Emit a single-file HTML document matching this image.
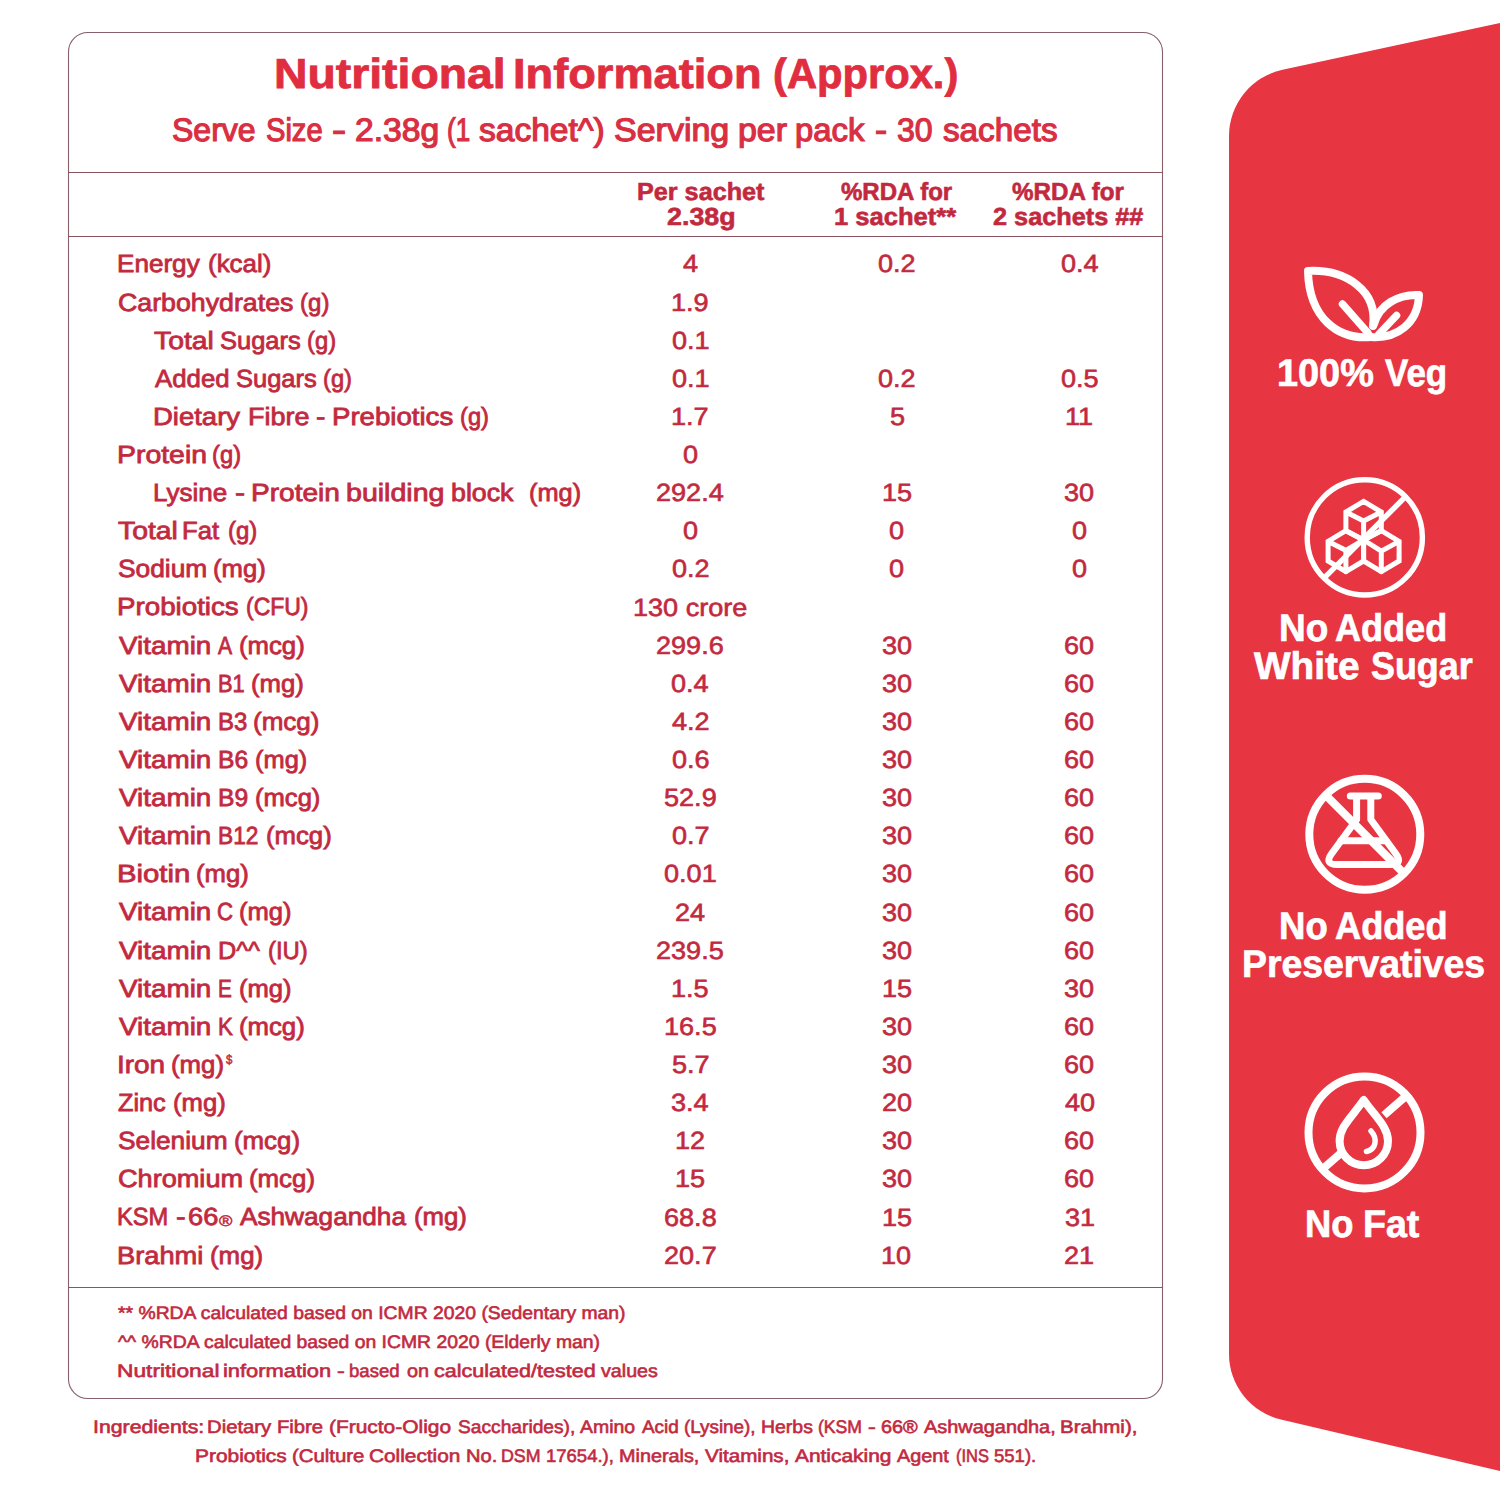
<!DOCTYPE html>
<html lang="en"><head><meta charset="utf-8"><title>Nutritional Information</title>
<style>
html,body{margin:0;padding:0;background:#fff;}
body{width:1500px;height:1500px;position:relative;overflow:hidden;font-family:"Liberation Sans",sans-serif;}
.t{position:absolute;white-space:pre;text-rendering:geometricPrecision;line-height:1;color:#c3293e;transform-origin:0 0;-webkit-text-stroke-color:currentColor;}
svg{position:absolute;left:0;top:0;}
</style></head><body>
<svg width="1500" height="1500" viewBox="0 0 1500 1500">
<rect x="68.5" y="32.5" width="1094" height="1366" rx="19.5" ry="19.5" fill="none" stroke="#86606a" stroke-width="1.1"/>
<g stroke="#8a5560" stroke-width="1.1">
<line x1="68.5" y1="172.5" x2="1162.5" y2="172.5"/>
<line x1="68.5" y1="236.5" x2="1162.5" y2="236.5"/>
<line x1="68.5" y1="1287.5" x2="1162.5" y2="1287.5"/>
</g>
<path d="M1500 23 L1282.5 69.8 A67.8 67.8 0 0 0 1229 136 L1229 1354 A67.3 67.3 0 0 0 1280.9 1419.5 L1500 1471 Z" fill="#e73541"/>
<g fill="none" stroke="#fff" stroke-linecap="round" stroke-linejoin="round">
<!-- leaf -->
<g stroke-width="8">
<path d="M1371 337 C1338 340 1309 318 1308 271 C1346 269 1378 291 1373 326"/>
<path d="M1371 337 C1396 339 1418 324 1419 295 C1398 294 1379 305 1374 324"/>
<path d="M1342.5 304 L1368 333" stroke-width="7.5"/>
<path d="M1396.5 315.5 L1379 334" stroke-width="7.5"/>
</g>
<!-- sugar -->
<g stroke-width="5.4">
<circle cx="1364.8" cy="537.4" r="57.6"/>
<path d="M1404.8 497.4 L1325.3 576.9" stroke-linecap="butt"/>
</g>
<g stroke-width="5" stroke-linejoin="miter">
<path d="M1363.6 501.3 L1381.3 512 L1381.3 530.7 L1363.6 540 L1345.9 530.7 L1345.9 512 Z M1345.9 512 L1363.6 520.9 L1381.3 512 M1363.6 520.9 L1363.6 540"/>
<path d="M1345.9 530.7 L1363.6 540 L1363.6 561 L1345.9 571.7 L1328.1 561 L1328.1 541.4 Z M1328.1 541.4 L1345.9 550.3 L1363.6 540 M1345.9 550.3 L1345.9 571.7"/>
<path d="M1381.3 530.7 L1399.1 541.4 L1399.1 561 L1381.3 571.7 L1363.6 561 L1363.6 540 Z M1363.6 540 L1381.3 551.2 L1399.1 541.4 M1381.3 551.2 L1381.3 571.7"/>
</g>
<!-- flask -->
<g stroke-width="8">
<circle cx="1364.8" cy="834.3" r="55.5"/>
<path d="M1325.2 794.7 L1404.4 873.9" stroke-linecap="butt"/>
</g>
<g stroke-width="7">
<path d="M1350.3 796 L1378.3 796"/>
<path d="M1356.6 799 L1356.6 819.5 L1331.9 853.3 Q1323.6 864.6 1337.6 864.6 L1389.8 864.6 Q1403.8 864.6 1395.5 853.3 L1370.8 819.5 L1370.8 799"/>
<path d="M1341 840.8 L1386 840.8"/>
</g>
<!-- drop -->
<g stroke-width="8">
<circle cx="1364.5" cy="1132.4" r="56"/>
<path d="M1406.6 1095.5 L1384 1115.3 M1341 1153 L1322.4 1169.3" stroke-linecap="butt"/>
<path d="M1363.7 1100 C1351 1118 1339.6 1127 1339.6 1141 A24.2 24.2 0 0 0 1388 1141 C1388 1127 1376.4 1118 1363.7 1100 Z"/>
<path d="M1371 1131 C1378 1139 1376 1149 1366.5 1151.5" stroke-width="5.5"/>
</g>
</g>
</svg>

<div class="t" style="left:273.54px;top:53px;font-size:42.01px;transform:scaleX(1.1034);font-weight:bold;color:#e02d3f;-webkit-text-stroke:0.8px;">Nutritional</div>
<div class="t" style="left:513.01px;top:53px;font-size:42.01px;transform:scaleX(1.0758);font-weight:bold;color:#e02d3f;-webkit-text-stroke:0.8px;">Information</div>
<div class="t" style="left:773.04px;top:53px;font-size:42.01px;transform:scaleX(0.9929);font-weight:bold;color:#e02d3f;-webkit-text-stroke:0.8px;">(Approx.)</div>
<div class="t" style="left:172.39px;top:114px;font-size:32.56px;transform:scaleX(0.9843);color:#d92f42;-webkit-text-stroke:1.2px;">Serve</div>
<div class="t" style="left:266.23px;top:114px;font-size:32.56px;transform:scaleX(0.8939);color:#d92f42;-webkit-text-stroke:1.2px;">Size</div>
<div class="t" style="left:332.26px;top:114px;font-size:32.56px;transform:scaleX(1.2997);color:#d92f42;-webkit-text-stroke:1.2px;">-</div>
<div class="t" style="left:354.84px;top:114px;font-size:32.56px;transform:scaleX(1.0337);color:#d92f42;-webkit-text-stroke:1.2px;">2.38g</div>
<div class="t" style="left:447.26px;top:114px;font-size:32.56px;transform:scaleX(0.7984);color:#d92f42;-webkit-text-stroke:1.2px;">(1</div>
<div class="t" style="left:479.49px;top:114px;font-size:32.56px;transform:scaleX(1.0309);color:#d92f42;-webkit-text-stroke:1.2px;">sachet^)</div>
<div class="t" style="left:613.96px;top:114px;font-size:32.56px;transform:scaleX(1.0446);color:#d92f42;-webkit-text-stroke:1.2px;">Serving</div>
<div class="t" style="left:737.50px;top:114px;font-size:32.56px;transform:scaleX(1.0420);color:#d92f42;-webkit-text-stroke:1.2px;">per</div>
<div class="t" style="left:794.55px;top:114px;font-size:32.56px;transform:scaleX(1.0080);color:#d92f42;-webkit-text-stroke:1.2px;">pack</div>
<div class="t" style="left:874.53px;top:114px;font-size:32.56px;transform:scaleX(1.1169);color:#d92f42;-webkit-text-stroke:1.2px;">-</div>
<div class="t" style="left:896.59px;top:114px;font-size:32.56px;transform:scaleX(0.9835);color:#d92f42;-webkit-text-stroke:1.2px;">30</div>
<div class="t" style="left:943.09px;top:114px;font-size:32.56px;transform:scaleX(1.0216);color:#d92f42;-webkit-text-stroke:1.2px;">sachets</div>
<div class="t" style="left:636.73px;top:181px;font-size:24.71px;transform:scaleX(1.0199);font-weight:bold;-webkit-text-stroke:0.6px;">Per sachet</div>
<div class="t" style="left:667.09px;top:206px;font-size:24.71px;transform:scaleX(1.0873);font-weight:bold;-webkit-text-stroke:0.6px;">2.38g</div>
<div class="t" style="left:840.92px;top:181px;font-size:24.71px;transform:scaleX(0.9724);font-weight:bold;-webkit-text-stroke:0.6px;">%RDA for</div>
<div class="t" style="left:833.91px;top:206px;font-size:24.71px;transform:scaleX(1.0348);font-weight:bold;-webkit-text-stroke:0.6px;">1 sachet**</div>
<div class="t" style="left:1012.42px;top:181px;font-size:24.71px;transform:scaleX(0.9785);font-weight:bold;-webkit-text-stroke:0.6px;">%RDA for</div>
<div class="t" style="left:992.62px;top:206px;font-size:24.71px;transform:scaleX(1.0233);font-weight:bold;-webkit-text-stroke:0.6px;">2 sachets ##</div>
<div class="t" style="left:116.88px;top:253px;font-size:24.85px;transform:scaleX(1.0503);-webkit-text-stroke:0.8px;">Energy</div>
<div class="t" style="left:207.50px;top:253px;font-size:24.85px;transform:scaleX(1.0442);-webkit-text-stroke:0.8px;">(kcal)</div>
<div class="t" style="left:682.89px;top:253px;font-size:24.85px;transform:scaleX(1.0900);-webkit-text-stroke:0.6px;">4</div>
<div class="t" style="left:878.30px;top:253px;font-size:24.85px;transform:scaleX(1.0900);-webkit-text-stroke:0.6px;">0.2</div>
<div class="t" style="left:1060.69px;top:253px;font-size:24.85px;transform:scaleX(1.0900);-webkit-text-stroke:0.6px;">0.4</div>
<div class="t" style="left:117.68px;top:292px;font-size:24.85px;transform:scaleX(1.0763);-webkit-text-stroke:0.8px;">Carbohydrates</div>
<div class="t" style="left:299.76px;top:292px;font-size:24.85px;transform:scaleX(0.9680);-webkit-text-stroke:0.8px;">(g)</div>
<div class="t" style="left:671.18px;top:292px;font-size:24.85px;transform:scaleX(1.0900);-webkit-text-stroke:0.6px;">1.9</div>
<div class="t" style="left:154.31px;top:330px;font-size:24.85px;transform:scaleX(1.1392);-webkit-text-stroke:0.8px;">Total</div>
<div class="t" style="left:219.61px;top:330px;font-size:24.85px;transform:scaleX(1.0259);-webkit-text-stroke:0.8px;">Sugars</div>
<div class="t" style="left:306.77px;top:330px;font-size:24.85px;transform:scaleX(0.9575);-webkit-text-stroke:0.8px;">(g)</div>
<div class="t" style="left:671.60px;top:330px;font-size:24.85px;transform:scaleX(1.0900);-webkit-text-stroke:0.6px;">0.1</div>
<div class="t" style="left:154.72px;top:368px;font-size:24.85px;transform:scaleX(1.0384);-webkit-text-stroke:0.8px;">Added</div>
<div class="t" style="left:235.61px;top:368px;font-size:24.85px;transform:scaleX(1.0259);-webkit-text-stroke:0.8px;">Sugars</div>
<div class="t" style="left:322.57px;top:368px;font-size:24.85px;transform:scaleX(0.9540);-webkit-text-stroke:0.8px;">(g)</div>
<div class="t" style="left:671.60px;top:368px;font-size:24.85px;transform:scaleX(1.0900);-webkit-text-stroke:0.6px;">0.1</div>
<div class="t" style="left:878.30px;top:368px;font-size:24.85px;transform:scaleX(1.0900);-webkit-text-stroke:0.6px;">0.2</div>
<div class="t" style="left:1060.90px;top:368px;font-size:24.85px;transform:scaleX(1.0900);-webkit-text-stroke:0.6px;">0.5</div>
<div class="t" style="left:152.90px;top:406px;font-size:24.85px;transform:scaleX(1.1061);-webkit-text-stroke:0.8px;">Dietary</div>
<div class="t" style="left:247.73px;top:406px;font-size:24.85px;transform:scaleX(1.0850);-webkit-text-stroke:0.8px;">Fibre</div>
<div class="t" style="left:316.17px;top:406px;font-size:24.85px;transform:scaleX(1.1350);-webkit-text-stroke:0.8px;">-</div>
<div class="t" style="left:331.69px;top:406px;font-size:24.85px;transform:scaleX(1.1111);-webkit-text-stroke:0.8px;">Prebiotics</div>
<div class="t" style="left:459.87px;top:406px;font-size:24.85px;transform:scaleX(0.9540);-webkit-text-stroke:0.8px;">(g)</div>
<div class="t" style="left:671.18px;top:406px;font-size:24.85px;transform:scaleX(1.0900);-webkit-text-stroke:0.6px;">1.7</div>
<div class="t" style="left:889.59px;top:406px;font-size:24.85px;transform:scaleX(1.0900);-webkit-text-stroke:0.6px;">5</div>
<div class="t" style="left:1065.24px;top:406px;font-size:24.85px;transform:scaleX(1.0900);-webkit-text-stroke:0.6px;">11</div>
<div class="t" style="left:116.94px;top:444px;font-size:24.85px;transform:scaleX(1.1431);-webkit-text-stroke:0.8px;">Protein</div>
<div class="t" style="left:212.47px;top:444px;font-size:24.85px;transform:scaleX(0.9575);-webkit-text-stroke:0.8px;">(g)</div>
<div class="t" style="left:682.68px;top:444px;font-size:24.85px;transform:scaleX(1.0900);-webkit-text-stroke:0.6px;">0</div>
<div class="t" style="left:152.99px;top:482px;font-size:24.85px;transform:scaleX(1.0471);-webkit-text-stroke:0.8px;">Lysine</div>
<div class="t" style="left:234.54px;top:482px;font-size:24.85px;transform:scaleX(1.2161);-webkit-text-stroke:0.8px;">-</div>
<div class="t" style="left:250.66px;top:482px;font-size:24.85px;transform:scaleX(1.1299);-webkit-text-stroke:0.8px;">Protein</div>
<div class="t" style="left:346.17px;top:482px;font-size:24.85px;transform:scaleX(1.1495);-webkit-text-stroke:0.8px;">building</div>
<div class="t" style="left:451.26px;top:482px;font-size:24.85px;transform:scaleX(1.0772);-webkit-text-stroke:0.8px;">block</div>
<div class="t" style="left:528.82px;top:482px;font-size:24.85px;transform:scaleX(1.0198);-webkit-text-stroke:0.8px;">(mg)</div>
<div class="t" style="left:656.11px;top:482px;font-size:24.85px;transform:scaleX(1.0900);-webkit-text-stroke:0.6px;">292.4</div>
<div class="t" style="left:881.64px;top:482px;font-size:24.85px;transform:scaleX(1.0900);-webkit-text-stroke:0.6px;">15</div>
<div class="t" style="left:1064.45px;top:482px;font-size:24.85px;transform:scaleX(1.0900);-webkit-text-stroke:0.6px;">30</div>
<div class="t" style="left:118.31px;top:520px;font-size:24.85px;transform:scaleX(1.1392);-webkit-text-stroke:0.8px;">Total</div>
<div class="t" style="left:182.41px;top:520px;font-size:24.85px;transform:scaleX(1.0331);-webkit-text-stroke:0.8px;">Fat</div>
<div class="t" style="left:227.56px;top:520px;font-size:24.85px;transform:scaleX(0.9645);-webkit-text-stroke:0.8px;">(g)</div>
<div class="t" style="left:682.68px;top:520px;font-size:24.85px;transform:scaleX(1.0900);-webkit-text-stroke:0.6px;">0</div>
<div class="t" style="left:889.38px;top:520px;font-size:24.85px;transform:scaleX(1.0900);-webkit-text-stroke:0.6px;">0</div>
<div class="t" style="left:1071.98px;top:520px;font-size:24.85px;transform:scaleX(1.0900);-webkit-text-stroke:0.6px;">0</div>
<div class="t" style="left:118.10px;top:558px;font-size:24.85px;transform:scaleX(1.0603);-webkit-text-stroke:0.8px;">Sodium</div>
<div class="t" style="left:213.21px;top:558px;font-size:24.85px;transform:scaleX(1.0320);-webkit-text-stroke:0.8px;">(mg)</div>
<div class="t" style="left:671.60px;top:558px;font-size:24.85px;transform:scaleX(1.0900);-webkit-text-stroke:0.6px;">0.2</div>
<div class="t" style="left:889.38px;top:558px;font-size:24.85px;transform:scaleX(1.0900);-webkit-text-stroke:0.6px;">0</div>
<div class="t" style="left:1071.98px;top:558px;font-size:24.85px;transform:scaleX(1.0900);-webkit-text-stroke:0.6px;">0</div>
<div class="t" style="left:116.98px;top:596px;font-size:24.85px;transform:scaleX(1.1158);-webkit-text-stroke:0.8px;">Probiotics</div>
<div class="t" style="left:245.99px;top:596px;font-size:24.85px;transform:scaleX(0.9247);-webkit-text-stroke:0.8px;">(CFU)</div>
<div class="t" style="left:632.79px;top:597px;font-size:24.85px;transform:scaleX(1.0900);-webkit-text-stroke:0.6px;">130 crore</div>
<div class="t" style="left:118.75px;top:635px;font-size:24.85px;transform:scaleX(1.1208);-webkit-text-stroke:0.8px;">Vitamin</div>
<div class="t" style="left:217.84px;top:635px;font-size:24.85px;transform:scaleX(0.8516);-webkit-text-stroke:0.8px;">A</div>
<div class="t" style="left:238.51px;top:635px;font-size:24.85px;transform:scaleX(1.0348);-webkit-text-stroke:0.8px;">(mcg)</div>
<div class="t" style="left:656.32px;top:635px;font-size:24.85px;transform:scaleX(1.0900);-webkit-text-stroke:0.6px;">299.6</div>
<div class="t" style="left:881.85px;top:635px;font-size:24.85px;transform:scaleX(1.0900);-webkit-text-stroke:0.6px;">30</div>
<div class="t" style="left:1064.24px;top:635px;font-size:24.85px;transform:scaleX(1.0900);-webkit-text-stroke:0.6px;">60</div>
<div class="t" style="left:118.75px;top:673px;font-size:24.85px;transform:scaleX(1.1208);-webkit-text-stroke:0.8px;">Vitamin</div>
<div class="t" style="left:218.25px;top:673px;font-size:24.85px;transform:scaleX(0.8780);-webkit-text-stroke:0.8px;">B1</div>
<div class="t" style="left:250.81px;top:673px;font-size:24.85px;transform:scaleX(1.0360);-webkit-text-stroke:0.8px;">(mg)</div>
<div class="t" style="left:671.39px;top:673px;font-size:24.85px;transform:scaleX(1.0900);-webkit-text-stroke:0.6px;">0.4</div>
<div class="t" style="left:881.85px;top:673px;font-size:24.85px;transform:scaleX(1.0900);-webkit-text-stroke:0.6px;">30</div>
<div class="t" style="left:1064.24px;top:673px;font-size:24.85px;transform:scaleX(1.0900);-webkit-text-stroke:0.6px;">60</div>
<div class="t" style="left:118.75px;top:711px;font-size:24.85px;transform:scaleX(1.1208);-webkit-text-stroke:0.8px;">Vitamin</div>
<div class="t" style="left:218.12px;top:711px;font-size:24.85px;transform:scaleX(0.9629);-webkit-text-stroke:0.8px;">B3</div>
<div class="t" style="left:253.20px;top:711px;font-size:24.85px;transform:scaleX(1.0478);-webkit-text-stroke:0.8px;">(mcg)</div>
<div class="t" style="left:671.81px;top:711px;font-size:24.85px;transform:scaleX(1.0900);-webkit-text-stroke:0.6px;">4.2</div>
<div class="t" style="left:881.85px;top:711px;font-size:24.85px;transform:scaleX(1.0900);-webkit-text-stroke:0.6px;">30</div>
<div class="t" style="left:1064.24px;top:711px;font-size:24.85px;transform:scaleX(1.0900);-webkit-text-stroke:0.6px;">60</div>
<div class="t" style="left:118.75px;top:749px;font-size:24.85px;transform:scaleX(1.1208);-webkit-text-stroke:0.8px;">Vitamin</div>
<div class="t" style="left:218.07px;top:749px;font-size:24.85px;transform:scaleX(0.9913);-webkit-text-stroke:0.8px;">B6</div>
<div class="t" style="left:255.12px;top:749px;font-size:24.85px;transform:scaleX(1.0239);-webkit-text-stroke:0.8px;">(mg)</div>
<div class="t" style="left:671.60px;top:749px;font-size:24.85px;transform:scaleX(1.0900);-webkit-text-stroke:0.6px;">0.6</div>
<div class="t" style="left:881.85px;top:749px;font-size:24.85px;transform:scaleX(1.0900);-webkit-text-stroke:0.6px;">30</div>
<div class="t" style="left:1064.24px;top:749px;font-size:24.85px;transform:scaleX(1.0900);-webkit-text-stroke:0.6px;">60</div>
<div class="t" style="left:118.75px;top:787px;font-size:24.85px;transform:scaleX(1.1208);-webkit-text-stroke:0.8px;">Vitamin</div>
<div class="t" style="left:218.07px;top:787px;font-size:24.85px;transform:scaleX(0.9913);-webkit-text-stroke:0.8px;">B9</div>
<div class="t" style="left:255.11px;top:787px;font-size:24.85px;transform:scaleX(1.0300);-webkit-text-stroke:0.8px;">(mcg)</div>
<div class="t" style="left:664.07px;top:787px;font-size:24.85px;transform:scaleX(1.0900);-webkit-text-stroke:0.6px;">52.9</div>
<div class="t" style="left:881.85px;top:787px;font-size:24.85px;transform:scaleX(1.0900);-webkit-text-stroke:0.6px;">30</div>
<div class="t" style="left:1064.24px;top:787px;font-size:24.85px;transform:scaleX(1.0900);-webkit-text-stroke:0.6px;">60</div>
<div class="t" style="left:118.75px;top:825px;font-size:24.85px;transform:scaleX(1.1208);-webkit-text-stroke:0.8px;">Vitamin</div>
<div class="t" style="left:218.19px;top:825px;font-size:24.85px;transform:scaleX(0.9128);-webkit-text-stroke:0.8px;">B12</div>
<div class="t" style="left:266.01px;top:825px;font-size:24.85px;transform:scaleX(1.0348);-webkit-text-stroke:0.8px;">(mcg)</div>
<div class="t" style="left:671.60px;top:825px;font-size:24.85px;transform:scaleX(1.0900);-webkit-text-stroke:0.6px;">0.7</div>
<div class="t" style="left:881.85px;top:825px;font-size:24.85px;transform:scaleX(1.0900);-webkit-text-stroke:0.6px;">30</div>
<div class="t" style="left:1064.24px;top:825px;font-size:24.85px;transform:scaleX(1.0900);-webkit-text-stroke:0.6px;">60</div>
<div class="t" style="left:116.88px;top:863px;font-size:24.85px;transform:scaleX(1.1790);-webkit-text-stroke:0.8px;">Biotin</div>
<div class="t" style="left:195.51px;top:863px;font-size:24.85px;transform:scaleX(1.0320);-webkit-text-stroke:0.8px;">(mg)</div>
<div class="t" style="left:664.07px;top:863px;font-size:24.85px;transform:scaleX(1.0900);-webkit-text-stroke:0.6px;">0.01</div>
<div class="t" style="left:881.85px;top:863px;font-size:24.85px;transform:scaleX(1.0900);-webkit-text-stroke:0.6px;">30</div>
<div class="t" style="left:1064.24px;top:863px;font-size:24.85px;transform:scaleX(1.0900);-webkit-text-stroke:0.6px;">60</div>
<div class="t" style="left:118.75px;top:901px;font-size:24.85px;transform:scaleX(1.1208);-webkit-text-stroke:0.8px;">Vitamin</div>
<div class="t" style="left:216.82px;top:901px;font-size:24.85px;transform:scaleX(0.8912);-webkit-text-stroke:0.8px;">C</div>
<div class="t" style="left:239.11px;top:901px;font-size:24.85px;transform:scaleX(1.0299);-webkit-text-stroke:0.8px;">(mg)</div>
<div class="t" style="left:674.94px;top:902px;font-size:24.85px;transform:scaleX(1.0900);-webkit-text-stroke:0.6px;">24</div>
<div class="t" style="left:881.85px;top:902px;font-size:24.85px;transform:scaleX(1.0900);-webkit-text-stroke:0.6px;">30</div>
<div class="t" style="left:1064.24px;top:902px;font-size:24.85px;transform:scaleX(1.0900);-webkit-text-stroke:0.6px;">60</div>
<div class="t" style="left:118.75px;top:940px;font-size:24.85px;transform:scaleX(1.1208);-webkit-text-stroke:0.8px;">Vitamin</div>
<div class="t" style="left:218.03px;top:940px;font-size:24.85px;transform:scaleX(1.0171);-webkit-text-stroke:0.8px;">D^^</div>
<div class="t" style="left:267.67px;top:940px;font-size:24.85px;transform:scaleX(0.9585);-webkit-text-stroke:0.8px;">(IU)</div>
<div class="t" style="left:656.32px;top:940px;font-size:24.85px;transform:scaleX(1.0900);-webkit-text-stroke:0.6px;">239.5</div>
<div class="t" style="left:881.85px;top:940px;font-size:24.85px;transform:scaleX(1.0900);-webkit-text-stroke:0.6px;">30</div>
<div class="t" style="left:1064.24px;top:940px;font-size:24.85px;transform:scaleX(1.0900);-webkit-text-stroke:0.6px;">60</div>
<div class="t" style="left:118.75px;top:978px;font-size:24.85px;transform:scaleX(1.1208);-webkit-text-stroke:0.8px;">Vitamin</div>
<div class="t" style="left:218.31px;top:978px;font-size:24.85px;transform:scaleX(0.8339);-webkit-text-stroke:0.8px;">E</div>
<div class="t" style="left:239.11px;top:978px;font-size:24.85px;transform:scaleX(1.0299);-webkit-text-stroke:0.8px;">(mg)</div>
<div class="t" style="left:671.18px;top:978px;font-size:24.85px;transform:scaleX(1.0900);-webkit-text-stroke:0.6px;">1.5</div>
<div class="t" style="left:881.64px;top:978px;font-size:24.85px;transform:scaleX(1.0900);-webkit-text-stroke:0.6px;">15</div>
<div class="t" style="left:1064.45px;top:978px;font-size:24.85px;transform:scaleX(1.0900);-webkit-text-stroke:0.6px;">30</div>
<div class="t" style="left:118.75px;top:1016px;font-size:24.85px;transform:scaleX(1.1208);-webkit-text-stroke:0.8px;">Vitamin</div>
<div class="t" style="left:218.22px;top:1016px;font-size:24.85px;transform:scaleX(0.8967);-webkit-text-stroke:0.8px;">K</div>
<div class="t" style="left:239.11px;top:1016px;font-size:24.85px;transform:scaleX(1.0348);-webkit-text-stroke:0.8px;">(mcg)</div>
<div class="t" style="left:663.64px;top:1016px;font-size:24.85px;transform:scaleX(1.0900);-webkit-text-stroke:0.6px;">16.5</div>
<div class="t" style="left:881.85px;top:1016px;font-size:24.85px;transform:scaleX(1.0900);-webkit-text-stroke:0.6px;">30</div>
<div class="t" style="left:1064.24px;top:1016px;font-size:24.85px;transform:scaleX(1.0900);-webkit-text-stroke:0.6px;">60</div>
<div class="t" style="left:116.97px;top:1054px;font-size:24.85px;transform:scaleX(1.1245);-webkit-text-stroke:0.8px;">Iron</div>
<div class="t" style="left:171.21px;top:1054px;font-size:24.85px;transform:scaleX(1.0380);-webkit-text-stroke:0.8px;">(mg)</div>
<div class="t" style="left:671.60px;top:1054px;font-size:24.85px;transform:scaleX(1.0900);-webkit-text-stroke:0.6px;">5.7</div>
<div class="t" style="left:881.85px;top:1054px;font-size:24.85px;transform:scaleX(1.0900);-webkit-text-stroke:0.6px;">30</div>
<div class="t" style="left:1064.24px;top:1054px;font-size:24.85px;transform:scaleX(1.0900);-webkit-text-stroke:0.6px;">60</div>
<div class="t" style="left:118.02px;top:1092px;font-size:24.85px;transform:scaleX(1.0176);-webkit-text-stroke:0.8px;">Zinc</div>
<div class="t" style="left:173.21px;top:1092px;font-size:24.85px;transform:scaleX(1.0320);-webkit-text-stroke:0.8px;">(mg)</div>
<div class="t" style="left:671.39px;top:1092px;font-size:24.85px;transform:scaleX(1.0900);-webkit-text-stroke:0.6px;">3.4</div>
<div class="t" style="left:881.64px;top:1092px;font-size:24.85px;transform:scaleX(1.0900);-webkit-text-stroke:0.6px;">20</div>
<div class="t" style="left:1064.66px;top:1092px;font-size:24.85px;transform:scaleX(1.0900);-webkit-text-stroke:0.6px;">40</div>
<div class="t" style="left:118.10px;top:1130px;font-size:24.85px;transform:scaleX(1.0583);-webkit-text-stroke:0.8px;">Selenium</div>
<div class="t" style="left:234.20px;top:1130px;font-size:24.85px;transform:scaleX(1.0397);-webkit-text-stroke:0.8px;">(mcg)</div>
<div class="t" style="left:674.94px;top:1130px;font-size:24.85px;transform:scaleX(1.0900);-webkit-text-stroke:0.6px;">12</div>
<div class="t" style="left:881.85px;top:1130px;font-size:24.85px;transform:scaleX(1.0900);-webkit-text-stroke:0.6px;">30</div>
<div class="t" style="left:1064.24px;top:1130px;font-size:24.85px;transform:scaleX(1.0900);-webkit-text-stroke:0.6px;">60</div>
<div class="t" style="left:117.67px;top:1168px;font-size:24.85px;transform:scaleX(1.0916);-webkit-text-stroke:0.8px;">Chromium</div>
<div class="t" style="left:249.20px;top:1168px;font-size:24.85px;transform:scaleX(1.0397);-webkit-text-stroke:0.8px;">(mcg)</div>
<div class="t" style="left:674.94px;top:1168px;font-size:24.85px;transform:scaleX(1.0900);-webkit-text-stroke:0.6px;">15</div>
<div class="t" style="left:881.85px;top:1168px;font-size:24.85px;transform:scaleX(1.0900);-webkit-text-stroke:0.6px;">30</div>
<div class="t" style="left:1064.24px;top:1168px;font-size:24.85px;transform:scaleX(1.0900);-webkit-text-stroke:0.6px;">60</div>
<div class="t" style="left:117.03px;top:1206px;font-size:24.85px;transform:scaleX(0.9523);-webkit-text-stroke:0.8px;">KSM</div>
<div class="t" style="left:663.85px;top:1207px;font-size:24.85px;transform:scaleX(1.0900);-webkit-text-stroke:0.6px;">68.8</div>
<div class="t" style="left:881.64px;top:1207px;font-size:24.85px;transform:scaleX(1.0900);-webkit-text-stroke:0.6px;">15</div>
<div class="t" style="left:1064.66px;top:1207px;font-size:24.85px;transform:scaleX(1.0900);-webkit-text-stroke:0.6px;">31</div>
<div class="t" style="left:117.01px;top:1245px;font-size:24.85px;transform:scaleX(1.0970);-webkit-text-stroke:0.8px;">Brahmi</div>
<div class="t" style="left:209.50px;top:1245px;font-size:24.85px;transform:scaleX(1.0401);-webkit-text-stroke:0.8px;">(mg)</div>
<div class="t" style="left:663.85px;top:1245px;font-size:24.85px;transform:scaleX(1.0900);-webkit-text-stroke:0.6px;">20.7</div>
<div class="t" style="left:881.43px;top:1245px;font-size:24.85px;transform:scaleX(1.0900);-webkit-text-stroke:0.6px;">10</div>
<div class="t" style="left:1064.45px;top:1245px;font-size:24.85px;transform:scaleX(1.0900);-webkit-text-stroke:0.6px;">21</div>
<div class="t" style="left:225.52px;top:1053px;font-size:13.08px;transform:scaleX(0.8755);-webkit-text-stroke:0.5px;">$</div>
<div class="t" style="left:175.66px;top:1206px;font-size:24.85px;transform:scaleX(1.1620);-webkit-text-stroke:0.8px;">-</div>
<div class="t" style="left:187.56px;top:1206px;font-size:24.85px;transform:scaleX(1.0964);-webkit-text-stroke:0.8px;">66</div>
<div class="t" style="left:219.10px;top:1214px;font-size:15.26px;transform:scaleX(1.1874);-webkit-text-stroke:0.5px;">®</div>
<div class="t" style="left:239.72px;top:1206px;font-size:24.85px;transform:scaleX(1.0539);-webkit-text-stroke:0.8px;">Ashwagandha</div>
<div class="t" style="left:413.71px;top:1206px;font-size:24.85px;transform:scaleX(1.0360);-webkit-text-stroke:0.8px;">(mg)</div>
<div class="t" style="left:117.72px;top:1304px;font-size:18.17px;transform:scaleX(1.0654);-webkit-text-stroke:0.6px;">** %RDA calculated based on ICMR 2020 (Sedentary man)</div>
<div class="t" style="left:118.02px;top:1333px;font-size:18.17px;transform:scaleX(1.0665);-webkit-text-stroke:0.6px;">^^ %RDA calculated based on ICMR 2020 (Elderly man)</div>
<div class="t" style="left:116.60px;top:1362px;font-size:18.17px;transform:scaleX(1.2534);-webkit-text-stroke:0.6px;">Nutritional</div>
<div class="t" style="left:222.59px;top:1362px;font-size:18.17px;transform:scaleX(1.2046);-webkit-text-stroke:0.6px;">information</div>
<div class="t" style="left:336.65px;top:1362px;font-size:18.17px;transform:scaleX(1.2900);-webkit-text-stroke:0.6px;">-</div>
<div class="t" style="left:349.15px;top:1362px;font-size:18.17px;transform:scaleX(1.0219);-webkit-text-stroke:0.6px;">based</div>
<div class="t" style="left:406.71px;top:1362px;font-size:18.17px;transform:scaleX(1.0925);-webkit-text-stroke:0.6px;">on</div>
<div class="t" style="left:434.08px;top:1362px;font-size:18.17px;transform:scaleX(1.1863);-webkit-text-stroke:0.6px;">calculated/tested</div>
<div class="t" style="left:601.33px;top:1362px;font-size:18.17px;transform:scaleX(1.0846);-webkit-text-stroke:0.6px;">values</div>
<div class="t" style="left:93.29px;top:1418px;font-size:18.17px;transform:scaleX(1.1720);-webkit-text-stroke:0.6px;">Ingredients:</div>
<div class="t" style="left:207.35px;top:1418px;font-size:18.17px;transform:scaleX(1.1175);-webkit-text-stroke:0.6px;">Dietary</div>
<div class="t" style="left:277.35px;top:1418px;font-size:18.17px;transform:scaleX(1.1144);-webkit-text-stroke:0.6px;">Fibre</div>
<div class="t" style="left:329.36px;top:1418px;font-size:18.17px;transform:scaleX(1.1521);-webkit-text-stroke:0.6px;">(Fructo-Oligo</div>
<div class="t" style="left:457.72px;top:1418px;font-size:18.17px;transform:scaleX(1.0568);-webkit-text-stroke:0.6px;">Saccharides),</div>
<div class="t" style="left:580.32px;top:1418px;font-size:18.17px;transform:scaleX(1.0707);-webkit-text-stroke:0.6px;">Amino</div>
<div class="t" style="left:641.91px;top:1418px;font-size:18.17px;transform:scaleX(1.0422);-webkit-text-stroke:0.6px;">Acid</div>
<div class="t" style="left:684.43px;top:1418px;font-size:18.17px;transform:scaleX(1.0387);-webkit-text-stroke:0.6px;">(Lysine),</div>
<div class="t" style="left:760.80px;top:1418px;font-size:18.17px;transform:scaleX(1.0705);-webkit-text-stroke:0.6px;">Herbs</div>
<div class="t" style="left:818.47px;top:1418px;font-size:18.17px;transform:scaleX(0.9693);-webkit-text-stroke:0.6px;">(KSM</div>
<div class="t" style="left:867.65px;top:1418px;font-size:18.17px;transform:scaleX(1.2900);-webkit-text-stroke:0.6px;">-</div>
<div class="t" style="left:881.00px;top:1418px;font-size:18.17px;transform:scaleX(1.0930);-webkit-text-stroke:0.6px;">66®</div>
<div class="t" style="left:924.33px;top:1418px;font-size:18.17px;transform:scaleX(1.0966);-webkit-text-stroke:0.6px;">Ashwagandha,</div>
<div class="t" style="left:1059.74px;top:1418px;font-size:18.17px;transform:scaleX(1.1282);-webkit-text-stroke:0.6px;">Brahmi),</div>
<div class="t" style="left:194.51px;top:1447px;font-size:18.17px;transform:scaleX(1.1507);-webkit-text-stroke:0.6px;">Probiotics</div>
<div class="t" style="left:291.98px;top:1447px;font-size:18.17px;transform:scaleX(1.1220);-webkit-text-stroke:0.6px;">(Culture</div>
<div class="t" style="left:369.37px;top:1447px;font-size:18.17px;transform:scaleX(1.1463);-webkit-text-stroke:0.6px;">Collection</div>
<div class="t" style="left:466.16px;top:1447px;font-size:18.17px;transform:scaleX(1.1079);-webkit-text-stroke:0.6px;">No.</div>
<div class="t" style="left:501.30px;top:1447px;font-size:18.17px;transform:scaleX(0.9809);-webkit-text-stroke:0.6px;">DSM</div>
<div class="t" style="left:546.15px;top:1447px;font-size:18.17px;transform:scaleX(1.0188);-webkit-text-stroke:0.6px;">17654.),</div>
<div class="t" style="left:618.78px;top:1447px;font-size:18.17px;transform:scaleX(1.0904);-webkit-text-stroke:0.6px;">Minerals,</div>
<div class="t" style="left:704.74px;top:1447px;font-size:18.17px;transform:scaleX(1.1353);-webkit-text-stroke:0.6px;">Vitamins,</div>
<div class="t" style="left:795.35px;top:1447px;font-size:18.17px;transform:scaleX(1.1509);-webkit-text-stroke:0.6px;">Anticaking</div>
<div class="t" style="left:897.33px;top:1447px;font-size:18.17px;transform:scaleX(1.0925);-webkit-text-stroke:0.6px;">Agent</div>
<div class="t" style="left:955.50px;top:1447px;font-size:18.17px;transform:scaleX(0.9059);-webkit-text-stroke:0.6px;">(INS</div>
<div class="t" style="left:994.13px;top:1447px;font-size:18.17px;transform:scaleX(1.0200);-webkit-text-stroke:0.6px;">551).</div>
<div class="t" style="left:1277.38px;top:355px;font-size:38.52px;transform:scaleX(0.9827);font-weight:bold;color:#ffffff;-webkit-text-stroke:0.7px;">100%</div>
<div class="t" style="left:1385.02px;top:355px;font-size:38.52px;transform:scaleX(0.9078);font-weight:bold;color:#ffffff;-webkit-text-stroke:0.7px;">Veg</div>
<div class="t" style="left:1278.63px;top:610px;font-size:38.52px;transform:scaleX(0.9591);font-weight:bold;color:#ffffff;-webkit-text-stroke:0.7px;">No</div>
<div class="t" style="left:1335.06px;top:610px;font-size:38.52px;transform:scaleX(0.9365);font-weight:bold;color:#ffffff;-webkit-text-stroke:0.7px;">Added</div>
<div class="t" style="left:1254.15px;top:648px;font-size:38.52px;transform:scaleX(1.0059);font-weight:bold;color:#ffffff;-webkit-text-stroke:0.7px;">White</div>
<div class="t" style="left:1370.57px;top:648px;font-size:38.52px;transform:scaleX(0.9309);font-weight:bold;color:#ffffff;-webkit-text-stroke:0.7px;">Sugar</div>
<div class="t" style="left:1278.65px;top:908px;font-size:38.52px;transform:scaleX(0.9487);font-weight:bold;color:#ffffff;-webkit-text-stroke:0.7px;">No</div>
<div class="t" style="left:1334.96px;top:908px;font-size:38.52px;transform:scaleX(0.9399);font-weight:bold;color:#ffffff;-webkit-text-stroke:0.7px;">Added</div>
<div class="t" style="left:1241.70px;top:946px;font-size:38.52px;transform:scaleX(0.9704);font-weight:bold;color:#ffffff;-webkit-text-stroke:0.7px;">Preservatives</div>
<div class="t" style="left:1304.86px;top:1206px;font-size:38.52px;transform:scaleX(0.9446);font-weight:bold;color:#ffffff;-webkit-text-stroke:0.7px;">No</div>
<div class="t" style="left:1363.49px;top:1206px;font-size:38.52px;transform:scaleX(0.9752);font-weight:bold;color:#ffffff;-webkit-text-stroke:0.7px;">Fat</div>
</body></html>
